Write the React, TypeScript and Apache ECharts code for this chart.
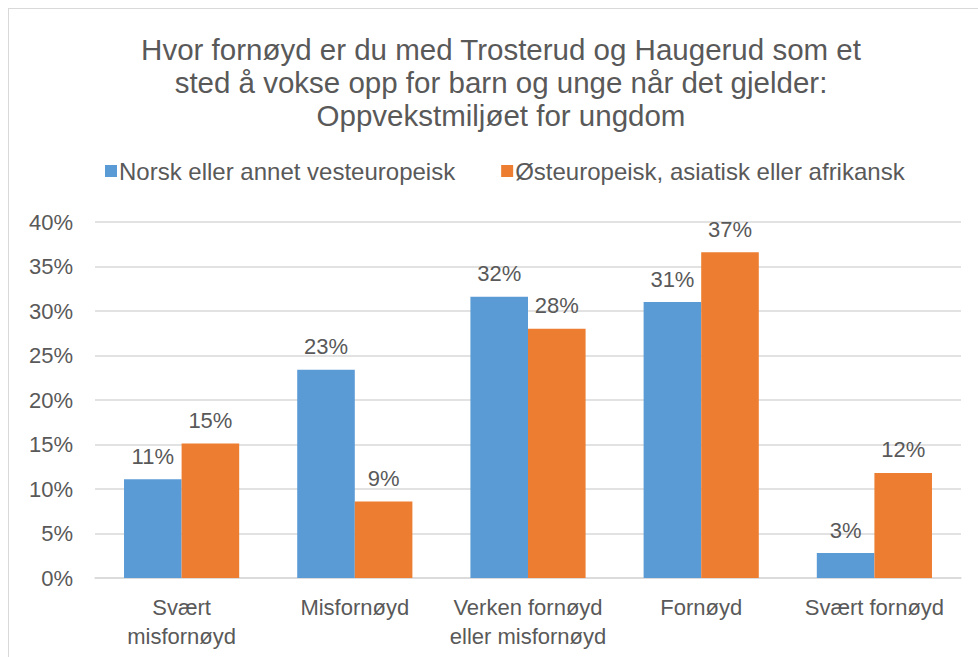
import React, { useEffect, useRef } from "react";
import * as echarts from "echarts";

const categories = ["Svært\nmisfornøyd", "Misfornøyd", "Verken fornøyd\neller misfornøyd", "Fornøyd", "Svært fornøyd"];
const seriesNames = ["Norsk eller annet vesteuropeisk", "Østeuropeisk, asiatisk eller afrikansk"];
const westValues = [11.1, 23.4, 31.6, 31.0, 2.8];
const eastValues = [15.1, 8.6, 28.0, 36.6, 11.8];
const titleText = "Hvor fornøyd er du med Trosterud og Haugerud som et\nsted å vokse opp for barn og unge når det gjelder:\nOppvekstmiljøet for ungdom";

const FONT = "'Liberation Sans', Arial, sans-serif";
const TXT = "#595959";

export default function App() {
  const ref = useRef<HTMLDivElement>(null);
  useEffect(() => {
    if (!ref.current) return;
    const chart = echarts.init(ref.current, undefined, { renderer: "svg" });
    const label = {
      show: true,
      position: "top",
      distance: 12,
      color: TXT,
      fontSize: 22,
      fontFamily: FONT,
      formatter: (p: any) => Math.round(p.value) + "%",
    };
    chart.setOption({
      animation: false,
      backgroundColor: "#ffffff",
      textStyle: { fontFamily: FONT },
      title: {
        text: titleText,
        left: 487,
        top: 19,
        textAlign: "center",
        textStyle: { color: TXT, fontSize: 29.5, fontWeight: "normal", lineHeight: 33, fontFamily: FONT },
      },
      legend: {
        left: 91,
        top: 145,
        itemWidth: 12,
        itemHeight: 12,
        itemGap: 46,
        icon: "rect",
        textStyle: { color: TXT, fontSize: 24, fontFamily: FONT, padding: [0, 0, 0, -3] },
        data: seriesNames,
      },
      grid: { left: 86, right: 17, top: 213, bottom: 79, containLabel: false },
      xAxis: {
        type: "category",
        data: categories,
        axisLine: { show: true, lineStyle: { color: "#d9d9d9", width: 1.5 } },
        axisTick: { show: false },
        axisLabel: { color: TXT, fontSize: 22, fontFamily: FONT, lineHeight: 29, margin: 15, interval: 0 },
      },
      yAxis: {
        type: "value",
        min: 0,
        max: 40,
        interval: 5,
        axisLine: { show: false },
        axisTick: { show: false },
        splitLine: { lineStyle: { color: "#d9d9d9", width: 1.5 } },
        axisLabel: { color: TXT, fontSize: 22, fontFamily: FONT, margin: 22, formatter: "{value}%" },
      },
      series: [
        {
          name: seriesNames[0],
          type: "bar",
          data: westValues,
          barGap: "0%",
          barCategoryGap: "33.5%",
          itemStyle: { color: "#5B9BD5" },
          label,
        },
        {
          name: seriesNames[1],
          type: "bar",
          data: eastValues,
          barGap: "0%",
          barCategoryGap: "33.5%",
          itemStyle: { color: "#ED7D31" },
          label,
        },
      ],
    });
    return () => chart.dispose();
  }, []);
  return (
    <div
      style={{
        position: "absolute",
        left: 8,
        top: 8,
        width: 970,
        height: 649,
        overflow: "hidden",
        borderTop: "1px solid #d9d9d9",
        borderLeft: "1px solid #d9d9d9",
        boxSizing: "border-box",
        background: "#fff",
      }}
    >
      <div ref={ref} style={{ width: 969, height: 648 }} />
    </div>
  );
}
